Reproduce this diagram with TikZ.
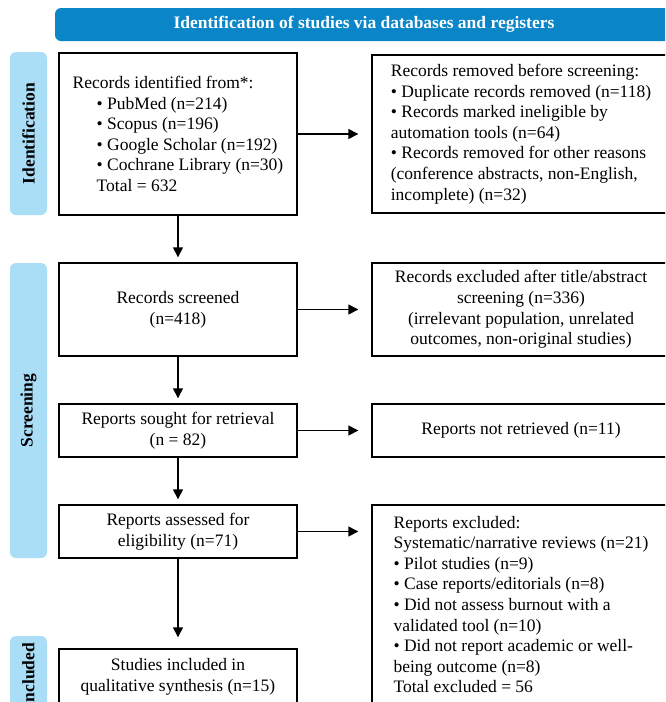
\documentclass[tikz,border=0pt]{standalone}
\usepackage{fontspec}
\setmainfont{Liberation Serif}
\usetikzlibrary{arrows.meta,calc}
\definecolor{bannerblue}{RGB}{10,133,200}
\definecolor{labelblue}{RGB}{170,222,247}
\begin{document}
\begin{tikzpicture}[x=1pt,y=-1pt,
  txt/.style={font=\fontsize{17.5}{20.6}\selectfont},
  flowbox/.style={txt,draw=black,line width=1.4pt,fill=white,inner sep=0pt,align=center},
  leftbox/.style={flowbox,align=left},
  phase/.style={fill=labelblue,rounded corners=6pt,inner sep=0pt,minimum width=37pt},
  phasetext/.style={txt,font=\fontsize{17.5}{20.6}\selectfont\bfseries,rotate=90},
  flow/.style={line width=1.45pt,-{Triangle[length=10pt,width=10pt]}}
]
\useasboundingbox (0,0) rectangle (665,702);
\clip (0,0) rectangle (665,702);
\fill[white] (0,0) rectangle (665,702);

% banner
\node[fill=bannerblue,rounded corners=6pt,minimum width=618pt,minimum height=33pt,inner sep=0pt,
      text=white,font=\fontsize{17.5}{20.6}\selectfont\bfseries] (banner) at (364,24.5)
  {Identification of studies via databases and registers};

% phase labels
\node[phase,minimum height=163pt] (pid) at (28.5,133.5) {};
\node[phasetext] (pidt) at (pid.center) {Identification};
\node[phase,minimum height=295pt] (psc) at (28.5,410.5) {};
\node[phasetext] (psct) at (psc.center) {Screening};
\node[phase,minimum height=80pt] (pin) at (28.5,676) {};
\node[phasetext] (pint) at (pin.center) {Included};

% left column
\node[leftbox,minimum width=238pt,minimum height=162pt] (b1) at (178,134)
  {Records identified from*:\\
   \hspace*{24pt}• PubMed (n=214)\\
   \hspace*{24pt}• Scopus (n=196)\\
   \hspace*{24pt}• Google Scholar (n=192)\\
   \hspace*{24pt}• Cochrane Library (n=30)\\
   \hspace*{24pt}Total = 632};
\node[flowbox,minimum width=238pt,minimum height=93pt] (b3) at (178,309.5)
  {Records screened\\(n=418)};
\node[flowbox,minimum width=238pt,minimum height=53pt] (b5) at (178,430.5)
  {Reports sought for retrieval\\(n = 82)};
\node[flowbox,minimum width=238pt,minimum height=53pt] (b7) at (178,531.5)
  {Reports assessed for\\eligibility (n=71)};
\node[flowbox,minimum width=238pt,minimum height=56pt] (b9) at (178,677)
  {Studies included in\\qualitative synthesis (n=15)};

% right column
\node[leftbox,minimum width=298pt,minimum height=158pt] (b2) at (521,134)
  {Records removed before screening:\\
   • Duplicate records removed (n=118)\\
   • Records marked ineligible by\\
   automation tools (n=64)\\
   • Records removed for other reasons\\
   (conference abstracts, non-English,\\
   incomplete) (n=32)};
\node[flowbox,minimum width=298pt,minimum height=93pt] (b4) at (521,309.5)
  {Records excluded after title/abstract\\
   screening (n=336)\\
   (irrelevant population, unrelated\\
   outcomes, non-original studies)};
\node[flowbox,minimum width=298pt,minimum height=53pt] (b6) at (521,430.5)
  {Reports not retrieved (n=11)};
\node[leftbox,minimum width=298pt,minimum height=199pt] (b8) at (521,604.5)
  {Reports excluded:\\
   Systematic/narrative reviews (n=21)\\
   • Pilot studies (n=9)\\
   • Case reports/editorials (n=8)\\
   • Did not assess burnout with a\\
   validated tool (n=10)\\
   • Did not report academic or well-\\
   being outcome (n=8)\\
   Total excluded = 56};

% connectors
\draw[flow,shorten >=13pt] (b1.east) -- (b1.east -| b2.west);
\draw[flow,shorten >=13pt] (b3.east) -- (b3.east -| b4.west);
\draw[flow,shorten >=13pt] (b5.east) -- (b5.east -| b6.west);
\draw[flow,shorten >=13pt] (b7.east) -- (b7.east -| b8.west);
\draw[flow,shorten >=5pt] (b1.south) -- (b3.north);
\draw[flow,shorten >=5pt] (b3.south) -- (b5.north);
\draw[flow,shorten >=5pt] (b5.south) -- (b7.north);
\draw[flow,shorten >=11pt] (b7.south) -- (b9.north);
\end{tikzpicture}
\end{document}
